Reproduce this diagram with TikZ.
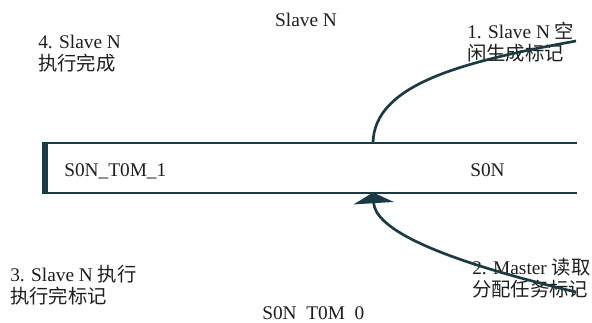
\documentclass[tikz,border=0pt]{standalone}
\usepackage{fontspec}
\setmainfont{Liberation Serif}
\newfontfamily\cjkfont{Noto Sans CJK SC}
\usetikzlibrary{arrows.meta,positioning}
\definecolor{ink}{RGB}{30,30,30}
\definecolor{slate}{RGB}{26,58,68}
\newcommand{\zh}[1]{{\cjkfont #1}}
\tikzset{
  note/.style={font=\fontsize{14.5}{16}\selectfont,align=left,text=ink,inner sep=0pt,anchor=base west},
  slotline/.style={line width=1.5pt,slate},
  flag/.style={line width=2pt,slate},
  grant/.style={line width=2pt,slate,-{Triangle[width=30pt,length=8pt]}}
}
\begin{document}
\begin{tikzpicture}[x=0.75pt,y=-0.75pt]
  \useasboundingbox (0,0) rectangle (592,322);
  % task slot of slave N
  \node[minimum width=534*0.75pt,minimum height=49*0.75pt,inner sep=0pt,anchor=north west] (slot) at (42,143) {};
  \draw[slotline] (slot.north west) -- (slot.north east);
  \draw[slotline] (slot.south west) -- (slot.south east);
  \fill[slate] (slot.north west) rectangle ([xshift=4.5pt]slot.south west);
  \node[note] (low) at (64,176) {S0N\_T0M\_1};
  \node[note] (high) at (470,176) {S0N};
  \node[note] (bottom) at (262,319) {S0N\hphantom{\_}T0M\hphantom{\_}0};
  \node[note,anchor=base] (owner) at (306,26) {Slave N};
  % steps (base = last line)
  \node[note] (step1) at (467,60) {1. Slave N \zh{空}\\\zh{闲生成标记}};
  \node[note] (step2) at (472,296) {2. Master \zh{读取}\\\zh{分配任务标记}};
  \node[note] (step3) at (10,303) {3. Slave N \zh{执行}\\\zh{执行完标记}};
  \node[note] (step4) at (38,70) {4. Slave N\\\zh{执行完成}};
  \coordinate (idle) at (576,41);
  \coordinate (read) at (576,292);
  \coordinate (mark) at (373,0);
  \draw[flag] (idle) .. controls (460,62) and (374,85) .. (slot.north -| mark);
  \draw[grant] (read) .. controls (420,255) and (375,225) .. (slot.south -| mark);
\end{tikzpicture}
\end{document}
